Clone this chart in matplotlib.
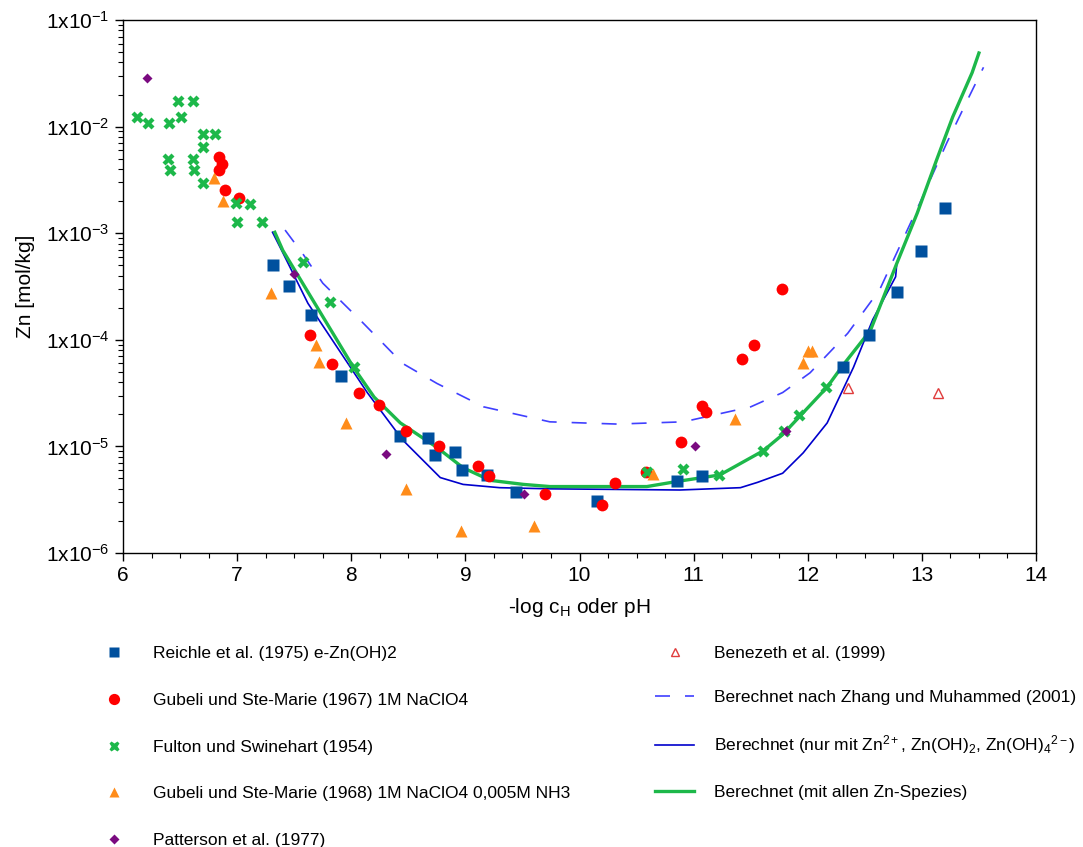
import matplotlib.pyplot as plt
from matplotlib.ticker import FixedLocator, MultipleLocator, LogLocator, NullFormatter

plt.rcParams['font.family'] = ['Liberation Sans', 'DejaVu Sans']
plt.rcParams['mathtext.fontset'] = 'custom'
plt.rcParams['mathtext.rm'] = 'Liberation Sans'
plt.rcParams['mathtext.it'] = 'Liberation Sans:italic'
plt.rcParams['mathtext.bf'] = 'Liberation Sans:bold'

# measured data
reichle_x = [7.31, 7.45, 7.65, 7.91, 8.43, 8.67, 8.73, 8.91, 8.97, 9.19, 9.44, 10.15, 10.85, 11.07, 12.31, 12.54, 12.78, 12.99, 13.20]
reichle_y = [5.0e-4, 3.2e-4, 1.7e-4, 4.6e-5, 1.26e-5, 1.2e-5, 8.3e-6, 8.9e-6, 6.0e-6, 5.4e-6, 3.7e-6, 3.1e-6, 4.7e-6, 5.3e-6, 5.6e-5, 1.11e-4, 2.8e-4, 6.8e-4, 1.74e-3]

gubeli67_x = [6.84, 6.87, 6.84, 6.89, 7.02, 7.64, 7.83, 8.07, 8.24, 8.48, 8.77, 9.11, 9.21, 9.70, 10.20, 10.31, 10.58, 10.89, 11.07, 11.11, 11.42, 11.53, 11.77]
gubeli67_y = [5.2e-3, 4.5e-3, 3.9e-3, 2.55e-3, 2.14e-3, 1.1e-4, 5.9e-5, 3.2e-5, 2.45e-5, 1.38e-5, 1.0e-5, 6.6e-6, 5.3e-6, 3.6e-6, 2.8e-6, 4.5e-6, 5.8e-6, 1.1e-5, 2.4e-5, 2.1e-5, 6.6e-5, 8.9e-5, 3.0e-4]

fulton_x = [6.12, 6.22, 6.48, 6.61, 6.40, 6.51, 6.70, 6.81, 6.70, 6.39, 6.61, 6.41, 6.62, 6.70, 6.99, 7.11, 7.00, 7.22, 7.58, 7.81, 8.02,
            10.59, 10.91, 11.22, 11.61, 11.79, 11.92, 12.16]
fulton_y = [1.23e-2, 1.07e-2, 1.74e-2, 1.74e-2, 1.08e-2, 1.23e-2, 8.5e-3, 8.5e-3, 6.4e-3, 5.0e-3, 5.0e-3, 3.9e-3, 3.9e-3, 2.95e-3, 1.9e-3, 1.87e-3, 1.26e-3, 1.26e-3, 5.4e-4, 2.24e-4, 5.5e-5,
            5.7e-6, 6.2e-6, 5.4e-6, 9.1e-6, 1.4e-5, 1.96e-5, 3.6e-5]

gubeli68_x = [6.80, 6.88, 7.30, 7.69, 7.72, 7.95, 8.48, 8.96, 9.60, 10.64, 11.36, 11.96, 12.00, 12.04]
gubeli68_y = [3.3e-3, 2.0e-3, 2.76e-4, 8.9e-5, 6.2e-5, 1.66e-5, 4.0e-6, 1.62e-6, 1.79e-6, 5.5e-6, 1.8e-5, 6.0e-5, 7.9e-5, 7.9e-5]

patterson_x = [6.21, 7.50, 8.30, 9.51, 11.01, 11.81]
patterson_y = [2.87e-2, 4.1e-4, 8.5e-6, 3.6e-6, 1.0e-5, 1.38e-5]

benezeth_x = [12.35, 13.14]
benezeth_y = [3.5e-5, 3.2e-5]

# calculated curves
zhang_x = [7.42, 7.58, 7.75, 8.10, 8.45, 8.75, 9.16, 9.74, 10.33, 10.91, 11.50, 11.78, 12.02, 12.35, 12.63, 12.98, 13.22, 13.40, 13.54]
zhang_y = [1.07e-3, 6.3e-4, 3.4e-4, 1.45e-4, 6.0e-5, 3.9e-5, 2.35e-5, 1.7e-5, 1.62e-5, 1.7e-5, 2.35e-5, 3.2e-5, 4.9e-5, 1.15e-4, 2.95e-4, 1.9e-3, 7.1e-3, 1.78e-2, 3.6e-2]

simple_x = [7.31, 7.39, 7.62, 8.14, 8.45, 8.78, 8.98, 9.30, 9.74, 10.88, 11.41, 11.56, 11.78, 11.96, 12.17, 12.40, 12.57, 12.77, 12.78, 12.96, 13.13, 13.27, 13.44, 13.50]
simple_y = [1.02e-3, 6.9e-4, 2.2e-4, 3.2e-5, 1.15e-5, 5.1e-6, 4.4e-6, 4.1e-6, 4.0e-6, 3.9e-6, 4.1e-6, 4.6e-6, 5.6e-6, 8.7e-6, 1.66e-5, 5.5e-5, 1.55e-4, 3.9e-4, 5.2e-4, 1.55e-3, 4.9e-3, 1.23e-2, 3.2e-2, 4.9e-2]

all_x = [7.33, 7.40, 7.68, 8.02, 8.20, 8.43, 8.75, 8.98, 9.22, 9.51, 9.74, 10.59, 10.86, 11.23, 11.61, 11.78, 12.17, 12.31, 12.55, 12.78, 12.96, 13.13, 13.27, 13.44, 13.50]
all_y = [1.02e-3, 6.9e-4, 2.2e-4, 5.5e-5, 2.9e-5, 1.66e-5, 9.8e-6, 6.3e-6, 4.8e-6, 4.4e-6, 4.2e-6, 4.2e-6, 4.7e-6, 5.4e-6, 9.1e-6, 1.29e-5, 3.6e-5, 5.8e-5, 1.23e-4, 5.2e-4, 1.55e-3, 4.9e-3, 1.23e-2, 3.2e-2, 4.9e-2]

fig = plt.figure(figsize=(10.83, 8.47), dpi=100)
ax = fig.add_axes([0.1136, 0.3471, 0.8430, 0.6293])

l_zhang, = ax.plot(zhang_x, zhang_y, color='#4040ff', lw=1.2, dashes=(9, 9), zorder=2,
                   label='Berechnet nach Zhang und Muhammed (2001)')
l_simple, = ax.plot(simple_x, simple_y, color='#0000cc', lw=1.2, zorder=3,
                    label='Berechnet (nur mit Zn$^{2+}$, Zn(OH)$_2$, Zn(OH)$_4$$^{2-}$)')
l_all, = ax.plot(all_x, all_y, color='#1db84a', lw=2.4, zorder=3,
                 label='Berechnet (mit allen Zn-Spezies)')

s1, = ax.plot(reichle_x, reichle_y, 's', color='#00509e', ms=8, mec='none', zorder=5,
              label='Reichle et al. (1975) e-Zn(OH)2')
s2, = ax.plot(gubeli67_x, gubeli67_y, 'o', color='#ff0000', ms=8.5, mec='none', zorder=5,
              label='Gubeli und Ste-Marie (1967) 1M NaClO4')
s3, = ax.plot(fulton_x, fulton_y, 'X', color='#1db84a', ms=8, mec='none', zorder=5,
              label='Fulton und Swinehart (1954)')
s4, = ax.plot(gubeli68_x, gubeli68_y, '^', color='#ff8c1a', ms=8, mec='none', zorder=5,
              label='Gubeli und Ste-Marie (1968) 1M NaClO4 0,005M NH3')
s5, = ax.plot(patterson_x, patterson_y, 'D', color='#7a0a80', ms=5.5, mec='none', zorder=5,
              label='Patterson et al. (1977)')
s6, = ax.plot(benezeth_x, benezeth_y, '^', color='none', mec='#e03c3c', mew=1.0, ms=6.5, zorder=5,
              label='Benezeth et al. (1999)')

ax.set_yscale('log')
ax.set_xlim(6, 14)
ax.set_ylim(1e-6, 1e-1)

ax.xaxis.set_major_locator(MultipleLocator(1))
ax.xaxis.set_minor_locator(MultipleLocator(0.25))
ax.yaxis.set_major_locator(FixedLocator([10.0 ** -k for k in range(1, 7)]))
ax.yaxis.set_minor_locator(LogLocator(base=10, subs=range(2, 10)))
ax.yaxis.set_minor_formatter(NullFormatter())
ax.set_yticklabels(['1x10$^{-%d}$' % k for k in range(1, 7)])

ax.tick_params(axis='both', which='major', labelsize=15, length=6, width=1, direction='out')
ax.tick_params(axis='both', which='minor', length=3.5, width=0.8, direction='out')
for sp in ax.spines.values():
    sp.set_linewidth(1.0)

ax.set_xlabel('-log c$_\\mathrm{H}$ oder pH', fontsize=15, labelpad=8)
ax.set_ylabel('Zn [mol/kg]', fontsize=15, labelpad=8)

leg_kw = dict(frameon=False, fontsize=12.5, handlelength=2.25, handletextpad=1.15,
              borderaxespad=0, borderpad=0, markerscale=0.95, loc='upper left')
leg1 = fig.legend(handles=[s1, s2, s3, s4, s5], labelspacing=1.82,
                  bbox_to_anchor=(94 / 1083, 1 - 646 / 847), **leg_kw)
leg2 = fig.legend(handles=[s6, l_zhang, l_simple, l_all], labelspacing=1.65,
                  bbox_to_anchor=(655 / 1083, 1 - 646 / 847), **leg_kw)

fig.savefig('out.png', dpi=100)
